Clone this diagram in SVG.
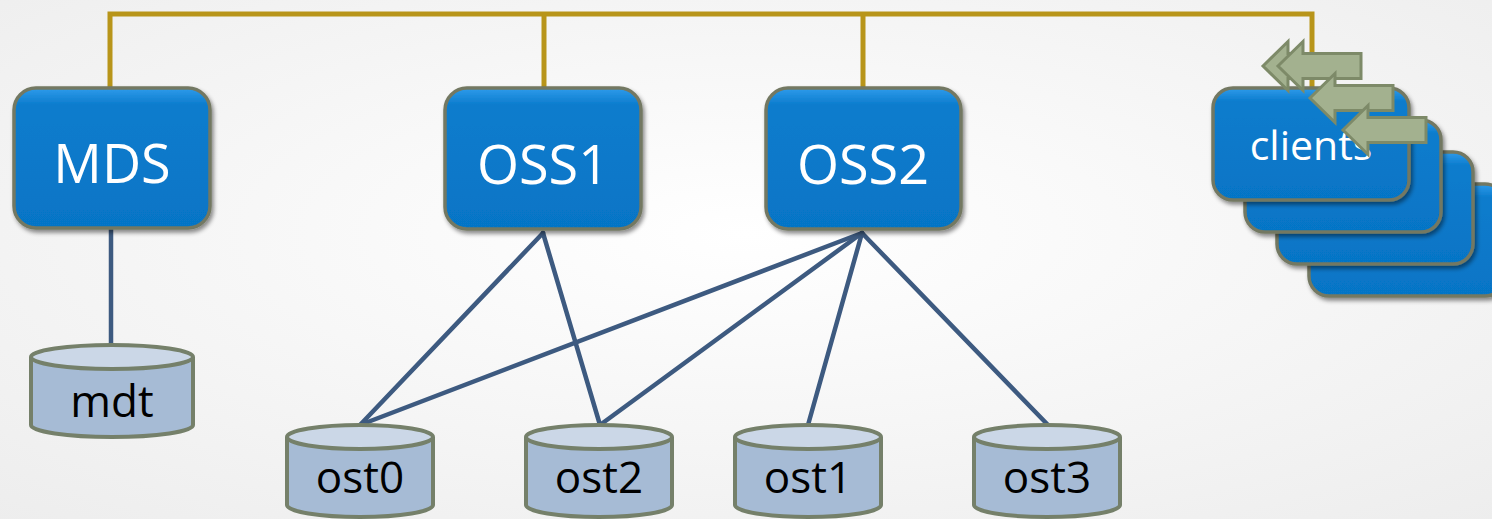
<svg xmlns="http://www.w3.org/2000/svg" width="1492" height="519" viewBox="0 0 1492 519">
<defs>
<radialGradient id="bg" cx="0.5" cy="0.45" r="0.75">
<stop offset="0" stop-color="#FFFFFF"/>
<stop offset="1" stop-color="#EDEDED"/>
</radialGradient>
<linearGradient id="boxfill" x1="0" y1="0" x2="0" y2="1">
<stop offset="0" stop-color="#2E9BEB"/>
<stop offset="0.12" stop-color="#0C7CCD"/>
<stop offset="1" stop-color="#0675C6"/>
</linearGradient>
<filter id="sh" x="-10%" y="-10%" width="125%" height="130%">
<feDropShadow dx="2" dy="3" stdDeviation="2" flood-color="#000" flood-opacity="0.45"/>
</filter>
<path id="arrow" d="M0,0 L25,-24.5 L25,-12.5 L83,-12.5 L83,12.5 L25,12.5 L25,24.5 Z"/>
</defs>
<style>
.box{fill:url(#boxfill);stroke:#737862;stroke-width:3.5;filter:url(#sh)}
.btxt{font-family:"Open Sans","Liberation Sans",sans-serif;fill:#FFFFFF;text-anchor:middle}
.body{fill:#A6BBD5;stroke:#75806A;stroke-width:4}
.top{fill:#CBD7E7;stroke:#75806A;stroke-width:4}
.ctxt{font-family:"Open Sans","Liberation Sans",sans-serif;font-size:44px;fill:#000000;text-anchor:middle}
.link{stroke:#3D5A80;stroke-width:4.5;fill:none;stroke-linecap:round}
.bus{stroke:#B8951A;stroke-width:5;fill:none}
.arr{fill:#A3B18F;stroke:#7D8A68;stroke-width:3;stroke-linejoin:miter}
</style>
<rect x="0" y="0" width="1492" height="519" fill="url(#bg)"/>

<g id="connectors">
<path class="bus" d="M110,88 V14 H1312 V88 M544,14 V88 M863,14 V88"/>
<line class="link" x1="111" y1="228" x2="111" y2="345"/>
<line class="link" x1="543" y1="233" x2="360" y2="425"/>
<line class="link" x1="543" y1="233" x2="600" y2="425"/>
<line class="link" x1="862" y1="233" x2="360" y2="425"/>
<line class="link" x1="862" y1="233" x2="600" y2="425"/>
<line class="link" x1="862" y1="233" x2="808" y2="425"/>
<line class="link" x1="862" y1="233" x2="1048" y2="425"/>
</g>

<g id="MDS">
<rect class="box" x="14" y="88" width="196" height="140" rx="22"/>
<text class="btxt" x="112" y="183" font-size="54">MDS</text>
</g>
<g id="OSS1">
<rect class="box" x="445" y="88" width="196" height="141" rx="22"/>
<text class="btxt" x="543" y="184" font-size="54">OSS1</text>
</g>
<g id="OSS2">
<rect class="box" x="766" y="88" width="195" height="141" rx="22"/>
<text class="btxt" x="863" y="184" font-size="54">OSS2</text>
</g>

<g id="clients">
<rect class="box" x="1309" y="184" width="196" height="112" rx="20"/>
<rect class="box" x="1277" y="152" width="196" height="112" rx="20"/>
<rect class="box" x="1245" y="120" width="196" height="112" rx="20"/>
<rect class="box" x="1213" y="88" width="196" height="112" rx="20"/>
<text class="btxt" x="1311" y="160" font-size="41">clients</text>
<use href="#arrow" class="arr" x="1263" y="66"/>
<use href="#arrow" class="arr" x="1278" y="66"/>
<use href="#arrow" class="arr" x="1310" y="98"/>
<use href="#arrow" class="arr" x="1343" y="130"/>
</g>

<g id="mdt">
<path class="body" d="M31,357 V425 A81,12 0 0 0 193,425 V357"/>
<ellipse class="top" cx="112" cy="357" rx="81" ry="12"/>
<text class="ctxt" x="112" y="417">mdt</text>
</g>
<g id="ost0">
<path class="body" d="M287,437 V505 A73,12 0 0 0 433,505 V437"/>
<ellipse class="top" cx="360" cy="437" rx="73" ry="12"/>
<text class="ctxt" x="360" y="493">ost0</text>
</g>
<g id="ost2">
<path class="body" d="M526,437 V505 A73,12 0 0 0 672,505 V437"/>
<ellipse class="top" cx="599" cy="437" rx="73" ry="12"/>
<text class="ctxt" x="599" y="493">ost2</text>
</g>
<g id="ost1">
<path class="body" d="M735,437 V505 A73,12 0 0 0 881,505 V437"/>
<ellipse class="top" cx="808" cy="437" rx="73" ry="12"/>
<text class="ctxt" x="808" y="493">ost1</text>
</g>
<g id="ost3">
<path class="body" d="M974,437 V505 A73,12 0 0 0 1120,505 V437"/>
<ellipse class="top" cx="1047" cy="437" rx="73" ry="12"/>
<text class="ctxt" x="1047" y="493">ost3</text>
</g>
</svg>
